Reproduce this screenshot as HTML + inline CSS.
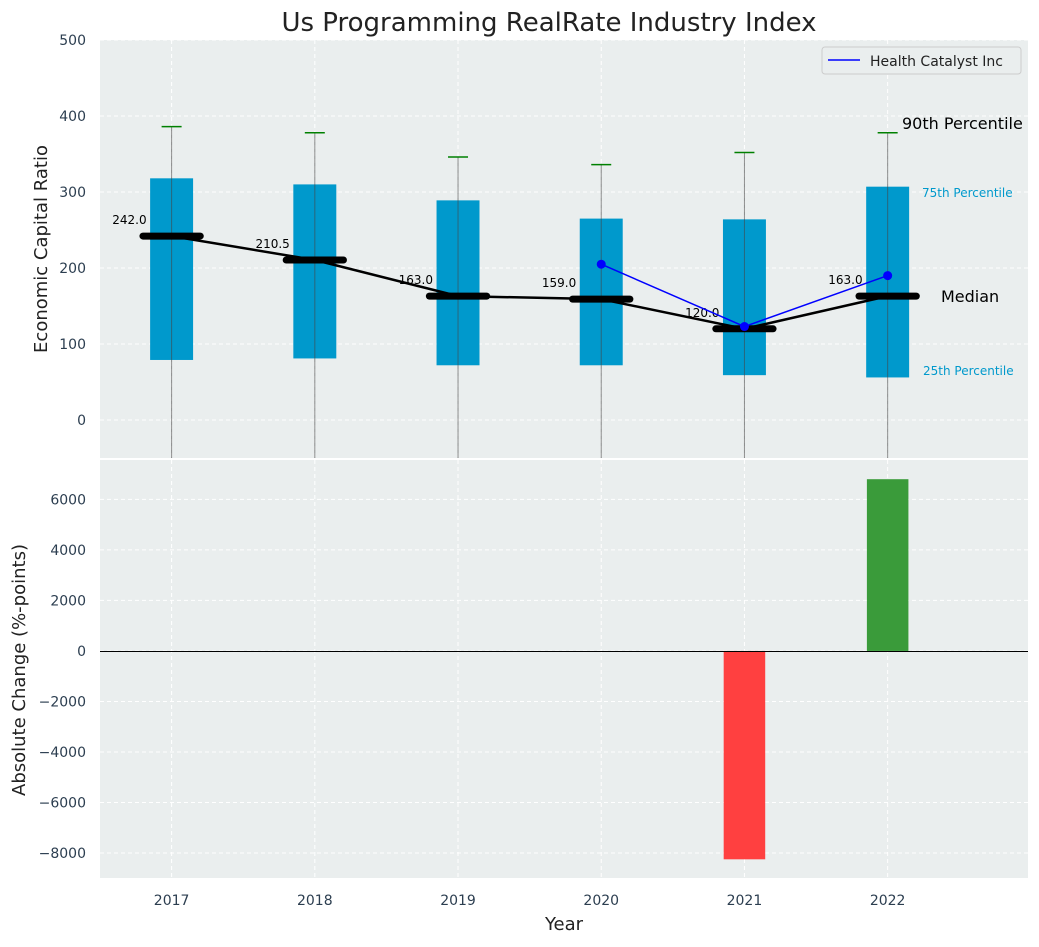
<!DOCTYPE html>
<html><head><meta charset="utf-8"><style>
body{margin:0;background:#fff;font-family:"Liberation Sans","DejaVu Sans",sans-serif}
svg text{font-family:"DejaVu Sans","Liberation Sans",sans-serif}
</style></head><body>
<svg id="c" width="1039" height="942" xmlns="http://www.w3.org/2000/svg"></svg>
<script>
const years=[2017,2018,2019,2020,2021,2022];
const q1=[79,81,72,72,59,56];
const q3=[318,310,289,265,264,307];
const p90=[386,378,346,336,352,378];
const medians=[242,210.5,163,159,120,163];
const companyYears=[2020,2021,2022];
const companyVals=[205,123,190];
const changeYears=[2021,2022];
const changeVals=[-8250,6800];
const topTicks=[0,100,200,300,400,500];
const botTicks=[-8000,-6000,-4000,-2000,0,2000,4000,6000];

const NS="http://www.w3.org/2000/svg";
const svg=document.getElementById('c');
function el(t,a,p){const e=document.createElementNS(NS,t);for(const k in a)e.setAttribute(k,a[k]);(p||svg).appendChild(e);return e;}
const L=100,R=1028;
const x=v=>L+(v-2016.5)/(6.48)*(R-L);
const yT=v=>40+(500-v)/550*418;
const yB=v=>460+(7560-v)/(7560+8990)*418;

let e=el('rect',{x:L,y:40,width:R-L,height:418,fill:'#eaeeee'});

e=el('rect',{x:L,y:460,width:R-L,height:418,fill:'#eaeeee'});


years.forEach(v=>{
 el('line',{x1:x(v),x2:x(v),y1:40,y2:458,stroke:'#fff','stroke-dasharray':'4,3','stroke-width':1});
 el('line',{x1:x(v),x2:x(v),y1:460,y2:878,stroke:'#fff','stroke-dasharray':'4,3','stroke-width':1});
});
topTicks.forEach(v=>{
 el('line',{x1:L,x2:R,y1:yT(v),y2:yT(v),stroke:'#fff','stroke-dasharray':'4,3'});
 const t=el('text',{x:L-14,y:yT(v)+5,'text-anchor':'end','font-size':14,fill:'#2c3e50'});t.textContent=v;
 
});
botTicks.forEach(v=>{
 el('line',{x1:L,x2:R,y1:yB(v),y2:yB(v),stroke:'#fff','stroke-dasharray':'4,3'});
 const t=el('text',{x:L-14,y:yB(v)+5,'text-anchor':'end','font-size':14,fill:'#2c3e50'});t.textContent=(v<0?'\u2212'+(-v):v);
 
});

years.forEach((v,i)=>{
 const w=x(v+0.15)-x(v-0.15);
 let b=el('rect',{x:x(v)-w/2,y:yT(q3[i]),width:w,height:yT(q1[i])-yT(q3[i]),fill:'#0099cc'});
 
 el('line',{x1:x(v),x2:x(v),y1:yT(p90[i]),y2:458,stroke:'#444','stroke-opacity':0.6,'stroke-width':1});
 let c=el('line',{x1:x(v)-10,x2:x(v)+10,y1:yT(p90[i]),y2:yT(p90[i]),stroke:'#008000','stroke-width':1.5});
 
});
let pts=years.map((v,i)=>x(v)+','+yT(medians[i])).join(' ');
e=el('polyline',{points:pts,fill:'none',stroke:'#000','stroke-width':2.5});

years.forEach((v,i)=>{
 const hw=x(v+0.2)-x(v);
 let m=el('line',{x1:x(v)-hw,x2:x(v)+hw,y1:yT(medians[i]),y2:yT(medians[i]),stroke:'#000','stroke-width':7,'stroke-linecap':'round'});
 
 let t=el('text',{x:x(v)-25,y:yT(medians[i])-12,'text-anchor':'end','font-size':12,fill:'#000'});t.textContent=medians[i].toFixed(1);
 
});
pts=companyYears.map((v,i)=>x(v)+','+yT(companyVals[i])).join(' ');
e=el('polyline',{points:pts,fill:'none',stroke:'#0000ff','stroke-width':1.5});

companyYears.forEach((v,i)=>{let d=el('circle',{cx:x(v),cy:yT(companyVals[i]),r:4.5,fill:'#0000ff'});
 });

function txt(s,a,name){const t=el('text',a);t.textContent=s;return t;}
txt('90th Percentile',{x:902,y:129,'font-size':16,fill:'#000'},'p90-annotation');
txt('75th Percentile',{x:922,y:197,'font-size':12,fill:'#0099cc'},'p75-annotation');
txt('Median',{x:941,y:302,'font-size':16,fill:'#000'},'median-annotation');
txt('25th Percentile',{x:923,y:375,'font-size':12,fill:'#0099cc'},'p25-annotation');

e=el('rect',{x:822,y:47,width:199,height:27,rx:3,fill:'#eaeeee',stroke:'#ccc'});

el('line',{x1:828,x2:860,y1:60,y2:60,stroke:'#0000ff','stroke-width':1.5});
txt('Health Catalyst Inc',{x:870,y:66,'font-size':14,fill:'#222'},'legend-entry');

changeYears.forEach((v,i)=>{
 const w=x(v+0.145)-x(v-0.145),val=changeVals[i];
 let b=el('rect',{x:x(v)-w/2,y:Math.min(yB(0),yB(val)),width:w,height:Math.abs(yB(val)-yB(0)),fill:val<0?'#ff4040':'#3a9b3a'});
 
});
e=el('line',{x1:L,x2:R,y1:Math.round(yB(0))+0.5,y2:Math.round(yB(0))+0.5,stroke:'#000','stroke-width':1,'shape-rendering':'crispEdges'});

years.forEach(v=>txt(v,{x:x(v),y:905,'text-anchor':'middle','font-size':14,fill:'#2c3e50'},'x-tick-label'));

txt('Us Programming RealRate Industry Index',{x:549,y:31,'text-anchor':'middle','font-size':26,fill:'#222'},'chart-title');
txt('Year',{x:564,y:930,'text-anchor':'middle','font-size':18,fill:'#222'},'x-axis-title');
txt('Economic Capital Ratio',{x:47,y:249,'text-anchor':'middle','font-size':18,fill:'#222',transform:'rotate(-90 47 249)'},'y-axis-title');
txt('Absolute Change (%-points)',{x:25,y:670,'text-anchor':'middle','font-size':18,fill:'#222',transform:'rotate(-90 25 670)'},'y2-axis-title');
</script>
</body></html>
